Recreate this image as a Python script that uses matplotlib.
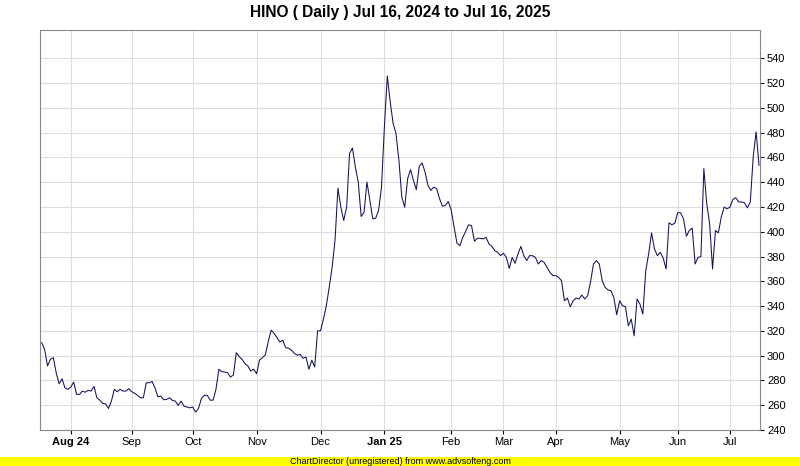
import numpy as np
import matplotlib
matplotlib.use("Agg")
import matplotlib.pyplot as plt
from matplotlib.patches import Rectangle

# daily closes, one value per trading day (Jul 16, 2024 .. Jul 16, 2025)
close = [
    310.5, 305, 291.7, 297, 298.4, 286, 277.3, 281.4, 274, 272.8,
    274.6, 278.7, 268.7, 268.7, 271.4, 270.5, 272, 271.4, 275.2, 266,
    264.1, 261.5, 261.1, 257.4, 263.3, 272.8, 270.9, 272.8, 271.4, 271.4,
    273.3, 270.9, 269.6, 268, 266, 266, 278.1, 278.1, 279.2, 274,
    266.8, 267.4, 264.4, 264.7, 266, 263.9, 263.3, 259.8, 263.3, 259.3,
    258.5, 257.9, 258.5, 254.4, 257.4, 265.5, 268, 268, 264.1, 264.1,
    272.8, 289, 287.1, 286.8, 286.2, 282.7,
    284.4, 302.4, 299.2, 297, 293.5, 291.7, 287.6, 289, 285.4, 296.5,
    298.4, 300.6, 311.3, 320.5, 318.1, 314.6, 311.1, 312.4, 306.5, 306,
    304.4, 301.9, 300.3, 301.1, 297.9, 298.9, 289, 296.3, 290.9, 320, 320,
    329.5, 340.2, 355.1, 371.3, 392.9, 435.2, 419.8, 409.1, 419.8, 463.1,
    467.6, 452.2, 440.1, 412.3, 415.7, 440.1, 425.3, 410.4, 410.9, 417.2,
    436, 484.6, 525.7, 504.9, 487.4, 479.3, 457.6, 427.9, 419.8, 442.8,
    450.1, 441.5, 433.9, 452.8, 455.5, 448.2, 437.4, 433.4, 436, 434.7,
    426.6, 420.6, 421.2, 424.4, 417.7,
    403.6, 390.7, 388.8, 395.5, 400.4, 405.6, 405, 392.3, 394.7, 394.7,
    394.2, 395.5, 390.2, 388.2, 384.8, 383.4, 380.7, 382.6, 379.3, 370.4,
    379.3, 374.5, 382, 388.2, 380.7, 376.7, 380.7, 380.7, 379.3, 374,
    376.7, 375.3, 371.3, 367.2, 364.6, 364.6, 363.2, 360.5, 344.3, 346.5,
    339.5, 344.3, 346.5, 345.7, 348.9, 345.7, 348.4, 359.7, 374, 376.7,
    374, 360.5, 355.1, 353, 352.4, 347, 333, 344.3, 340.2, 339.5,
    324.1, 329.5, 316, 345.7, 341.6, 333.5, 368.6, 382.1, 399.1, 386.1,
    380.7, 383.4, 378.8, 369.9, 407.2, 405.6, 406.9, 415.3, 415.3, 410.4,
    396.4, 401, 402.9, 374, 379.3, 379.9, 450.9, 422.6, 406.4, 370,
    401, 399.1, 411.8, 419.9, 418.5, 419.9, 426.1, 427.5, 424, 424,
    423.4, 419.3, 424, 460.3, 480.6, 453.6,
]

# first trading day of each month, as index into close
month_idx = [10, 31, 52, 74, 96, 118, 141, 159, 177, 199, 219, 237]
month_labels = ["Aug 24", "Sep", "Oct", "Nov", "Dec", "Jan 25",
                "Feb", "Mar", "Apr", "May", "Jun", "Jul"]
y_ticks = list(range(240, 541, 20))

plt.rcParams["font.family"] = ["Liberation Sans", "DejaVu Sans"]

fig = plt.figure(figsize=(8, 4.66), dpi=100)
ax = fig.add_axes([40 / 800, 1 - 430 / 466, 720 / 800, 400 / 466])

x = np.arange(len(close))
ax.plot(x, close, color="#12125a", lw=0.75)

ax.set_xlim(-0.59, len(close) - 1 + 0.34)
ax.set_ylim(240, 562.8)

ax.set_xticks(month_idx)
ax.set_xticklabels(month_labels, fontsize=8)
for lbl in ax.get_xticklabels():
    if lbl.get_text() in ("Aug 24", "Jan 25"):
        lbl.set_fontweight("bold")

ax.yaxis.tick_right()
ax.set_yticks(y_ticks)
ax.set_yticklabels([str(v) for v in y_ticks], fontsize=8)
ax.tick_params(axis="x", direction="out", length=3, width=0.8, pad=2)
ax.tick_params(axis="y", direction="out", length=3, width=0.8, pad=2)

ax.grid(True, color="#dddddd", lw=0.8)
ax.set_axisbelow(True)
for s in ax.spines.values():
    s.set_color("#888888")
    s.set_linewidth(0.8)

fig.text(0.5, 1 - 13 / 466, "HINO ( Daily ) Jul 16, 2024 to Jul 16, 2025",
         ha="center", va="center", fontsize=11.2, fontweight="bold")

# unregistered banner at the bottom
fig.add_artist(Rectangle((0, 0), 1, 9.5 / 466, transform=fig.transFigure,
                         color="#ffff00", lw=0))
fig.text(0.5, 4.7 / 466, "ChartDirector (unregistered) from www.advsofteng.com",
         ha="center", va="center", fontsize=6.5)

fig.savefig("out.png", dpi=100)
